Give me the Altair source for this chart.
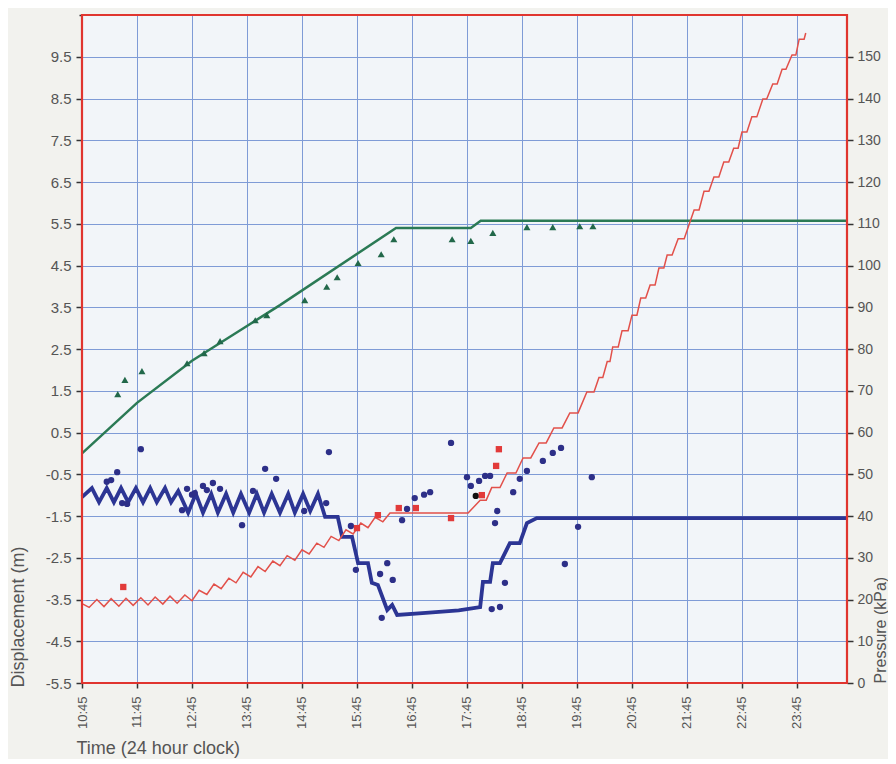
import altair as alt
import pandas as pd

# ---------------- data (time in decimal hours, 10.75 = 10:45) ----------------
x_domain = [10.75, 24.66]
x_ticks = [10.75, 11.75, 12.75, 13.75, 14.75, 15.75, 16.75, 17.75, 18.75,
           19.75, 20.75, 21.75, 22.75, 23.75]
disp_domain = [-5.5, 10.5]
disp_ticks = [-5.5, -5.0, -4.5, -4.0, -3.5, -3.0, -2.5, -2.0, -1.5, -1.0, -0.5,
              0.0, 0.5, 1.0, 1.5, 2.0, 2.5, 3.0, 3.5, 4.0, 4.5, 5.0, 5.5, 6.0,
              6.5, 7.0, 7.5, 8.0, 8.5, 9.0, 9.5, 10.0, 10.5]
disp_labels = [-5.5, -4.5, -3.5, -2.5, -1.5, -0.5, 0.0, 0.5, 1.5, 2.5, 3.5,
               4.5, 5.5, 6.5, 7.5, 8.5, 9.5]
press_domain = [0, 160]
press_ticks = [0, 5, 10, 15, 20, 25, 30, 35, 40, 45, 50, 55, 60, 65, 70, 75,
               80, 85, 90, 95, 100, 105, 110, 115, 120, 125, 130, 135, 140,
               145, 150, 155]
press_labels = [0, 10, 20, 30, 40, 50, 60, 70, 80, 90, 100, 110, 120, 130,
                140, 150]

# green predicted displacement line
green_t = [10.75, 11.75, 12.75, 13.75, 14.35, 16.46, 17.82, 18.00, 24.66]
green_d = [0.0, 1.21, 2.22, 3.05, 3.55, 5.40, 5.40, 5.57, 5.57]

# green measured displacement (triangles)
tri_t = [11.40, 11.53, 11.84, 12.66, 12.97, 13.26, 13.90, 14.11, 14.80, 15.20,
         15.39, 15.77, 16.19, 16.42, 17.48, 17.82, 18.22, 18.84, 19.31, 19.80,
         20.04]
tri_d = [1.42, 1.76, 1.97, 2.16, 2.40, 2.69, 3.19, 3.31, 3.67, 3.99, 4.22,
         4.56, 4.77, 5.13, 5.13, 5.09, 5.28, 5.42, 5.42, 5.44, 5.44]

# blue predicted displacement line
blue_t = [10.75, 10.93, 11.06, 11.20, 11.33, 11.46, 11.59, 11.73, 11.86, 11.99,
          12.11, 12.26, 12.37, 12.50, 12.68, 12.82, 12.95, 13.10, 13.22, 13.37,
          13.50, 13.64, 13.79, 13.93, 14.06, 14.20, 14.35, 14.50, 14.62, 14.77,
          14.90, 15.04, 15.17, 15.40, 15.48, 15.66, 15.77, 15.95, 16.02, 16.13,
          16.30, 16.39, 16.48, 17.00, 17.60, 17.99, 18.04, 18.17, 18.22, 18.35,
          18.53, 18.71, 18.84, 19.02, 24.66]
blue_d = [-1.05, -0.83, -1.17, -0.83, -1.17, -0.83, -1.17, -0.83, -1.17, -0.83,
          -1.17, -0.83, -1.17, -0.90, -1.42, -0.97, -1.42, -0.97, -1.42, -0.97,
          -1.42, -0.97, -1.42, -0.97, -1.42, -0.97, -1.42, -0.97, -1.42, -0.97,
          -1.38, -0.97, -1.52, -1.52, -2.00, -2.00, -2.63, -2.63, -3.10, -3.15,
          -3.75, -3.63, -3.87, -3.82, -3.76, -3.68, -3.08, -3.08, -2.63, -2.63,
          -2.15, -2.15, -1.67, -1.55, -1.55]

# blue measured displacement (dots)
dot_t = [11.20, 11.28, 11.39, 11.82, 11.48, 11.57, 12.57, 12.66, 12.75, 12.80,
         12.95, 13.02, 13.13, 13.26, 13.66, 13.86, 14.08, 14.28, 14.79, 15.24,
         15.19, 15.64, 15.73, 16.17, 16.30, 16.40, 16.20, 16.57, 16.66, 16.80,
         16.97, 17.08, 17.46, 17.75, 17.82, 17.97, 18.08, 18.17, 18.30, 18.26,
         18.20, 18.35, 18.44, 18.59, 18.71, 18.84, 19.13, 19.31, 19.46, 20.02,
         19.77, 19.53]
dot_d = [-0.68, -0.64, -0.45, 0.10, -1.19, -1.21, -1.36, -0.85, -0.99, -0.95,
         -0.78, -0.88, -0.71, -0.85, -1.72, -0.90, -0.37, -0.61, -1.38, 0.03,
         -1.19, -1.74, -2.79, -2.89, -2.63, -3.03, -3.94, -1.60, -1.33, -1.07,
         -0.99, -0.93, 0.25, -0.57, -0.78, -0.66, -0.54, -0.54, -1.38, -1.67,
         -3.73, -3.68, -3.10, -0.93, -0.61, -0.42, -0.18, 0.01, 0.13, -0.57,
         -1.76, -2.65]
black_t = [17.91]
black_d = [-1.02]

# red pressure line
press_t = [10.75, 10.88, 11.02, 11.15, 11.28, 11.42, 11.55, 11.68, 11.82, 11.95,
           12.08, 12.22, 12.35, 12.48, 12.62, 12.75, 12.88, 13.02, 13.15, 13.28,
           13.42, 13.55, 13.68, 13.82, 13.95, 14.08, 14.22, 14.35, 14.48, 14.62,
           14.75, 14.88, 15.02, 15.15, 15.28, 15.42, 15.55, 15.68, 15.82, 15.95,
           16.08, 16.22, 16.35, 16.53,
           17.77, 17.99, 18.10, 18.20, 18.35, 18.48, 18.64, 18.77, 18.91, 19.06,
           19.19, 19.33, 19.48, 19.62, 19.77, 19.93, 20.06, 20.15, 20.22, 20.30,
           20.35, 20.40, 20.50, 20.57, 20.68, 20.75, 20.84, 20.91, 21.00, 21.08,
           21.17, 21.24, 21.33, 21.39, 21.48, 21.59, 21.70, 21.88, 21.97, 22.06,
           22.15, 22.24, 22.33, 22.42, 22.51, 22.60, 22.68, 22.75, 22.84, 22.93,
           23.02, 23.13, 23.20, 23.31, 23.39, 23.48, 23.55, 23.66, 23.73, 23.79,
           23.88, 23.91]
press_p = [19.0, 18.1, 20.0, 18.3, 20.2, 18.4, 20.3, 18.6, 20.4, 18.7,
           20.6, 18.9, 20.8, 19.1, 21.1, 19.7, 22.2, 21.2, 23.7, 22.6,
           25.1, 24.0, 26.5, 25.4, 27.9, 26.7, 29.2, 28.1, 30.5, 29.4,
           31.9, 30.9, 33.5, 32.5, 35.1, 34.1, 36.7, 35.7, 38.3, 37.2,
           39.7, 38.6, 40.7, 40.7,
           40.7, 43.8, 43.8, 46.8, 46.8, 50.3, 50.3, 53.9, 53.9, 57.5,
           57.5, 61.1, 61.1, 64.7, 64.7, 69.7, 69.7, 73.2, 73.2, 77.0,
           77.0, 80.5, 80.5, 84.4, 84.4, 88.1, 88.1, 92.2, 92.2, 95.3,
           95.3, 99.4, 99.4, 102.5, 102.5, 106.4, 106.4, 113.3, 113.3, 117.8,
           117.8, 121.2, 121.2, 124.8, 124.8, 128.1, 128.1, 132.0, 132.0, 135.6,
           135.6, 139.9, 139.9, 143.5, 143.5, 147.0, 147.0, 150.4, 150.4, 154.2,
           154.2, 155.7]

# red measured pressure (squares)
sq_t = [11.50, 15.75, 16.13, 16.51, 16.82, 17.46, 18.02, 18.28, 18.33]
sq_p = [23.0, 37.1, 40.2, 41.9, 41.9, 39.5, 45.0, 52.0, 56.0]

# ---------------- styling ----------------
W, H = 765, 668
FONT = "Liberation Sans"
TXT = "#555555"
GRID = "#7f9bd6"
BORDER = "#e0352f"

green_df = pd.DataFrame({"t": green_t, "d": green_d, "i": range(len(green_t))})
tri_df = pd.DataFrame({"t": tri_t, "d": tri_d})
blue_df = pd.DataFrame({"t": blue_t, "d": blue_d, "i": range(len(blue_t))})
dot_df = pd.DataFrame({"t": dot_t, "d": dot_d})
black_df = pd.DataFrame({"t": black_t, "d": black_d})
press_df = pd.DataFrame({"t": press_t, "p": press_p, "i": range(len(press_t))})
sq_df = pd.DataFrame({"t": sq_t, "p": sq_p})


def in_list(vals):
    return "indexof([" + ",".join(str(v) for v in vals) + "], datum.value) >= 0"


disp_test = in_list(disp_labels)
press_test = in_list(press_labels)

x_scale = alt.Scale(domain=x_domain, nice=False, zero=False)
x_axis = alt.Axis(
    values=x_ticks, labelExpr="floor(datum.value) + ':45'", labelAngle=-90,
    labelFontSize=13, labelColor=TXT, labelFont=FONT, labelPadding=8,
    labelFlush=False, labelOverlap=False,
    tickSize=5, tickColor="#333333", tickWidth=1.5,
    grid=True, gridColor=GRID, gridWidth=1, domain=False,
    title="Time (24 hour clock)", titleFont=FONT, titleFontSize=18,
    titleFontWeight="normal", titleColor=TXT, titleX=-6, titleY=70,
    titleAlign="left", titleBaseline="alphabetic",
)
x_enc = alt.X("t:Q", scale=x_scale, axis=x_axis)
x_plain = alt.X("t:Q", scale=x_scale)

d_scale = alt.Scale(domain=disp_domain, nice=False, zero=False)
d_axis = alt.Axis(
    values=disp_ticks,
    labelExpr=disp_test + " ? toString(datum.value) : ''",
    labelFontSize=15, labelColor=TXT, labelFont=FONT, labelPadding=5,
    labelFlush=False, labelOverlap=False,
    tickSize={"condition": {"test": disp_test, "value": 6}, "value": 3},
    tickColor="#333333", tickWidth=1.5,
    grid=True, gridColor=GRID, gridWidth=1, domain=False,
    title="Displacement (m)", titleFont=FONT, titleFontSize=18,
    titleFontWeight="normal", titleColor=TXT, titleAngle=270,
    titleX=-64, titleY=672, titleAlign="left", titleBaseline="middle",
)
y_d = alt.Y("d:Q", scale=d_scale, axis=d_axis)
y_d_plain = alt.Y("d:Q", scale=d_scale)

p_scale = alt.Scale(domain=press_domain, nice=False, zero=False)
p_axis = alt.Axis(
    orient="right", values=press_ticks,
    labelExpr=press_test + " ? toString(datum.value) : ''",
    labelFontSize=14, labelColor=TXT, labelFont=FONT, labelPadding=4,
    labelFlush=False, labelOverlap=False,
    tickSize={"condition": {"test": press_test, "value": 6}, "value": 3},
    tickColor="#333333", tickWidth=1.5,
    grid=False, domain=False,
    title="Pressure (kPa)", titleFont=FONT, titleFontSize=16,
    titleFontWeight="normal", titleColor=TXT, titleAngle=270,
    titleX=33, titleY=668, titleAlign="left", titleBaseline="middle",
)
y_p = alt.Y("p:Q", scale=p_scale, axis=p_axis)
y_p_plain = alt.Y("p:Q", scale=p_scale)

green_line = alt.Chart(green_df).mark_line(color="#2b7a55", strokeWidth=2.5).encode(
    x=x_enc, y=y_d, order="i:Q")
blue_line = alt.Chart(blue_df).mark_line(color="#2c3594", strokeWidth=3.8,
                                         strokeJoin="miter").encode(
    x=x_plain, y=y_d_plain, order="i:Q")
tri_pts = alt.Chart(tri_df).mark_point(shape="triangle-up", filled=True, size=50,
                                       color="#22684a", opacity=1).encode(
    x=x_plain, y=y_d_plain)
dot_pts = alt.Chart(dot_df).mark_circle(size=40, color="#2d2f88", opacity=1).encode(
    x=x_plain, y=y_d_plain)
black_pts = alt.Chart(black_df).mark_circle(size=40, color="#111111", opacity=1).encode(
    x=x_plain, y=y_d_plain)

left = alt.layer(green_line, blue_line, tri_pts, dot_pts, black_pts)

press_line = alt.Chart(press_df).mark_line(color="#e2504a", strokeWidth=1.5).encode(
    x=x_plain, y=y_p, order="i:Q")
sq_pts = alt.Chart(sq_df).mark_square(size=40, color="#e23a3a", opacity=1).encode(
    x=x_plain, y=y_p_plain)
frame = alt.Chart(pd.DataFrame({"a": [0]})).mark_rect(
    filled=False, stroke=BORDER, strokeWidth=2.2).encode(
    x=alt.value(0), x2=alt.value(W), y=alt.value(0), y2=alt.value(H))

right = alt.layer(press_line, sq_pts, frame)

chart = alt.layer(left, right).resolve_scale(y="independent").properties(
    width=W, height=H,
    autosize=alt.AutoSizeParams(type="none"),
    padding={"left": 74, "top": 7, "right": 41, "bottom": 76},
    background="#f2f2ee",
).configure_view(fill="#f2f5f9", strokeWidth=0)

chart.save("out.html", embed_options={"renderer": "svg", "actions": False})
